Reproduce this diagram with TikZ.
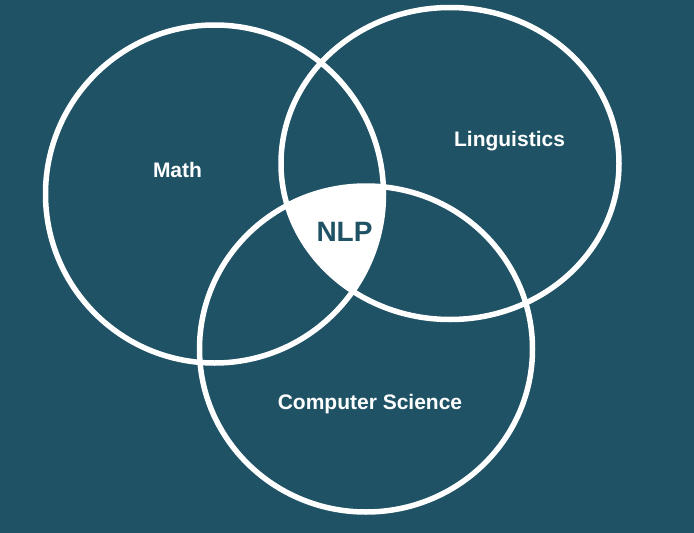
\documentclass[tikz,border=0pt]{standalone}
\usepackage{fontspec}
\setmainfont{Liberation Sans}
\definecolor{bg}{RGB}{30,82,100}
\begin{document}
\begin{tikzpicture}[x=1pt,y=-1pt,
  ring/.style={draw=white, line width=5.5pt},
  lbl/.style={text=white, font=\bfseries\fontsize{21}{25}\selectfont, inner sep=0pt}]
\fill[bg] (0,0) rectangle (694,533);
\useasboundingbox (0,0) rectangle (694,533);
\begin{scope}
  \clip (214.5,194) circle [radius=169pt];
  \clip (450,163.5) ellipse [x radius=169pt, y radius=156pt];
  \fill[white] (366,349) ellipse [x radius=166.5pt, y radius=163pt];
\end{scope}
\draw[ring] (214.5,194) circle [radius=169pt];
\draw[ring] (450,163.5) ellipse [x radius=169pt, y radius=156pt];
\draw[ring] (366,349) ellipse [x radius=166.5pt, y radius=163pt];
\node[lbl] (math) at (177.5,170) {Math};
\node[lbl] (ling) at (509.5,141) {Linguistics};
\node[lbl] (cs) at (370,404.5) {Computer Science};
\node[lbl, text=bg, font=\bfseries\fontsize{28}{33}\selectfont] (nlp) at (344.5,232) {NLP};
\end{tikzpicture}
\end{document}
